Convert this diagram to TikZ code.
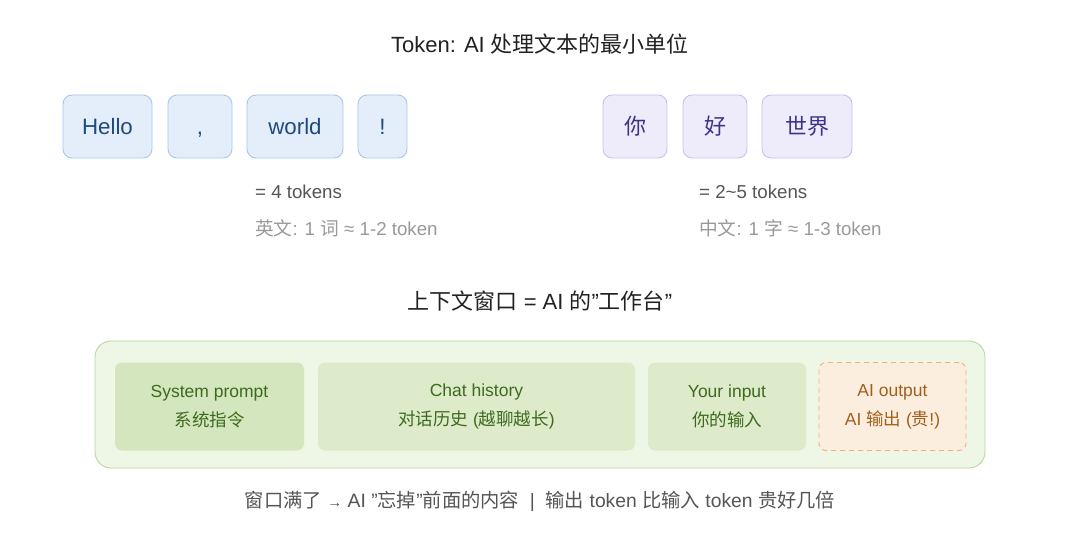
\documentclass[tikz,border=0pt]{standalone}
\usepackage{fontspec}
\setmainfont{Liberation Sans}
\newfontfamily\cjk{Noto Sans CJK SC}
\newcommand{\dq}{\symbol{"22}}
\definecolor{titletext}{HTML}{222222}
\definecolor{bluefill}{HTML}{E4EEFA}
\definecolor{bluedraw}{HTML}{A8C8EC}
\definecolor{bluetext}{HTML}{1E4A80}
\definecolor{purpfill}{HTML}{EEEBFB}
\definecolor{purpdraw}{HTML}{C9C1EF}
\definecolor{purptext}{HTML}{3C3489}
\definecolor{graytext}{HTML}{555555}
\definecolor{lighttext}{HTML}{999999}
\definecolor{outerfill}{HTML}{EEF6E6}
\definecolor{outerdraw}{HTML}{B8D89F}
\definecolor{sysfill}{HTML}{D3E6BE}
\definecolor{segfill}{HTML}{DDEBCB}
\definecolor{greentext}{HTML}{3E6A1E}
\definecolor{outfill}{HTML}{FCEEDF}
\definecolor{outdraw}{HTML}{EDB377}
\definecolor{outtext}{HTML}{A0601C}
\tikzset{
  titlestyle/.style={text=titletext, font=\fontsize{22}{26}\selectfont, anchor=center},
  entok/.style={draw=bluedraw, fill=bluefill, text=bluetext, rounded corners=9pt, line width=0.9pt, minimum height=63pt, inner sep=0pt, text height=16pt, text depth=0pt, font=\fontsize{22.3}{26}\selectfont},
  zhtok/.style={draw=purpdraw, fill=purpfill, text=purptext, rounded corners=9pt, line width=0.9pt, minimum height=63pt, inner sep=0pt, font=\fontsize{22}{26}\selectfont\cjk},
  count/.style={text=graytext, anchor=west, font=\fontsize{18.7}{22}\selectfont, inner sep=0pt},
  ratio/.style={text=lighttext, anchor=west, font=\fontsize{18.7}{22}\selectfont, inner sep=0pt},
  seg/.style={fill=segfill, rounded corners=7pt, text=greentext, align=center, minimum height=88pt, inner sep=0pt, font=\fontsize{17.5}{29}\selectfont},
  footstyle/.style={text=graytext, font=\fontsize{19.3}{23}\selectfont, anchor=center}
}
\begin{document}
\begin{tikzpicture}[x=1pt,y=-1pt]
\useasboundingbox[fill=white] (0,0) rectangle (1080,540);
% title
\node[titlestyle] (title) at (540,44) {Token: AI {\cjk 处理文本的最小单位}};
% English tokens
\node[entok, minimum width=89pt] (hello) at (107.5,126.5) {Hello};
\node[entok, minimum width=64pt] (comma) at (200,126.5) {,};
\node[entok, minimum width=96pt] (world) at (295,126.5) {world};
\node[entok, minimum width=49pt] (excl) at (382.5,126.5) {!};
\node[count] (encount) at (255,192) {= 4 tokens};
\node[ratio] (enratio) at (255,228) {{\cjk 英文}: 1 {\cjk 词} ≈ 1-2 token};
% Chinese tokens
\node[zhtok, minimum width=64pt] (ni) at (635,126.5) {你};
\node[zhtok, minimum width=64pt] (hao) at (715,126.5) {好};
\node[zhtok, minimum width=90pt] (shijie) at (807,126.5) {世界};
\node[count] (zhcount) at (699,192) {= 2\textasciitilde 5 tokens};
\node[ratio] (zhratio) at (699,228) {{\cjk 中文}: 1 {\cjk 字} ≈ 1-3 token};
% context window title
\node[titlestyle] (ctxtitle) at (540,301) {{\cjk 上下文窗口} = AI {\cjk 的}\dq{\cjk 工作台}\dq};
% outer window
\node[draw=outerdraw, fill=outerfill, rounded corners=16pt, line width=0.9pt, minimum width=890pt, minimum height=127pt, inner sep=0pt] (win) at (540,404.5) {};
% segments
\node[seg, fill=sysfill, minimum width=189pt] (sys) at (209.5,406.5) {System prompt\\{\cjk 系统指令}};
\node[seg, minimum width=317pt] (hist) at (476.5,406.5) {Chat history\\{\cjk 对话历史} ({\cjk 越聊越长})};
\node[seg, minimum width=158pt] (inp) at (727,406.5) {Your input\\{\cjk 你的输入}};
\node[seg, draw=outdraw, fill=outfill, text=outtext, dash pattern=on 5pt off 4pt, line width=0.9pt, minimum width=147pt] (outp) at (892.5,406.5) {AI output\\AI {\cjk 输出} ({\cjk 贵}!)};
% footer
\node[footstyle] (foot) at (540,501) {{\cjk 窗口满了} {\fontsize{15}{18}\selectfont →} AI \dq{\cjk 忘掉}\dq{\cjk 前面的内容}\ \ |\ \ {\cjk 输出} token {\cjk 比输入} token {\cjk 贵好几倍}};
\end{tikzpicture}
\end{document}
